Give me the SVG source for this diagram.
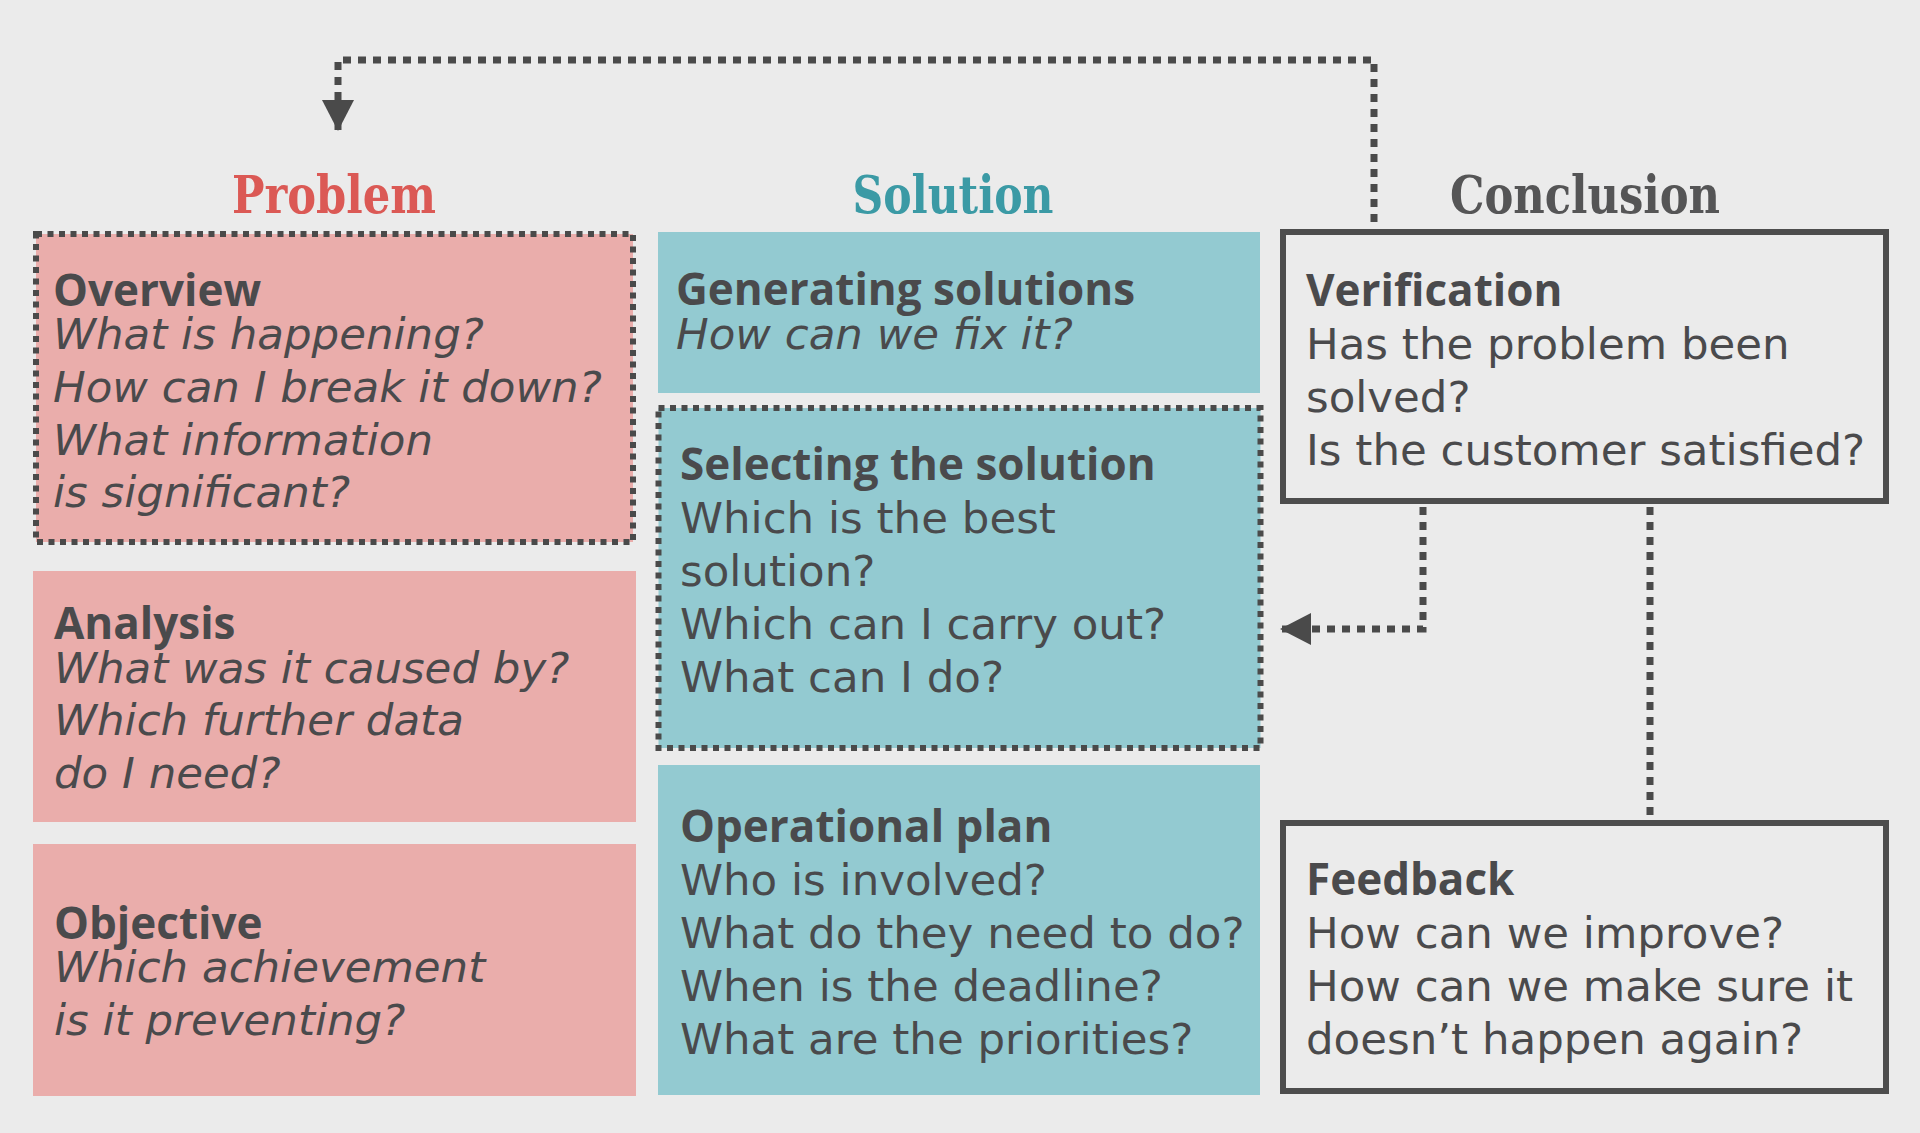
<svg xmlns="http://www.w3.org/2000/svg" width="1920" height="1133" viewBox="0 0 1920 1133">
<style>
.bg{fill:#ebebeb}
.pink{fill:#eaadab}
.teal{fill:#93cad1}
.dotbox{stroke:#4a4a4a;stroke-width:6;stroke-dasharray:6 5.5}
.solidbox{fill:#ebebeb;stroke:#4d4d4d;stroke-width:6}
.head{font-family:"DejaVu Serif","Liberation Serif",serif;font-weight:bold;font-stretch:condensed;font-size:52px;text-anchor:middle}
.t{font-family:"Open Sans","DejaVu Sans",sans-serif;font-weight:bold;font-size:44px;fill:#4a4a4c}
.b{font-family:"DejaVu Sans","Open Sans",sans-serif;font-size:43.5px;fill:#4a4a4c}
.i{font-style:italic}
.conn{fill:none;stroke:#4a4a4a;stroke-width:7;stroke-dasharray:8 7}
</style>
<defs>
<marker id="arr" viewBox="0 0 31 32" refX="30" refY="16" markerWidth="31" markerHeight="32" markerUnits="userSpaceOnUse" orient="auto">
<path d="M0,0 L31,16 L0,32 Z" fill="#4a4a4a"/>
</marker>
</defs>
<rect class="bg" x="0" y="0" width="1920" height="1133"/>

<g id="titles">
<text class="head" x="334" y="213" fill="#db5955" textLength="204" lengthAdjust="spacingAndGlyphs">Problem</text>
<text class="head" x="953" y="213" fill="#3b9aa5" textLength="201" lengthAdjust="spacingAndGlyphs">Solution</text>
<text class="head" x="1585" y="213" fill="#555556" textLength="270" lengthAdjust="spacingAndGlyphs">Conclusion</text>
</g>

<g id="connectors">
<path class="conn" d="M1374,222 V60 H338 V130" marker-end="url(#arr)"/>
<path class="conn" d="M1423,507 V629 H1281" marker-end="url(#arr)"/>
<path class="conn" d="M1650,507 V820"/>
</g>

<g id="overview">
<rect class="pink dotbox" x="36" y="234" width="597" height="308"/>
<text class="t" x="53" y="306">Overview</text>
<text class="b i" x="53"><tspan x="53" y="349">What is happening?</tspan><tspan x="53" y="402">How can I break it down?</tspan><tspan x="53" y="455">What information</tspan><tspan x="53" y="507">is significant?</tspan></text>
</g>

<g id="analysis">
<rect class="pink" x="33" y="571" width="603" height="251"/>
<text class="t" x="54" y="639">Analysis</text>
<text class="b i"><tspan x="54" y="683">What was it caused by?</tspan><tspan x="54" y="735">Which further data</tspan><tspan x="54" y="788">do I need?</tspan></text>
</g>

<g id="objective">
<rect class="pink" x="33" y="844" width="603" height="252"/>
<text class="t" x="54" y="939">Objective</text>
<text class="b i"><tspan x="54" y="982">Which achievement</tspan><tspan x="54" y="1035">is it preventing?</tspan></text>
</g>

<g id="generating">
<rect class="teal" x="658" y="232" width="602" height="161"/>
<text class="t" x="676" y="305">Generating solutions</text>
<text class="b i" x="676" y="349">How can we fix it?</text>
</g>

<g id="selecting">
<rect class="teal dotbox" x="658.5" y="408" width="602" height="340"/>
<text class="t" x="680" y="480">Selecting the solution</text>
<text class="b"><tspan x="680" y="533">Which is the best</tspan><tspan x="680" y="586">solution?</tspan><tspan x="680" y="639">Which can I carry out?</tspan><tspan x="680" y="692">What can I do?</tspan></text>
</g>

<g id="operational">
<rect class="teal" x="658" y="765" width="602" height="330"/>
<text class="t" x="680" y="842">Operational plan</text>
<text class="b"><tspan x="680" y="895">Who is involved?</tspan><tspan x="680" y="948">What do they need to do?</tspan><tspan x="680" y="1001">When is the deadline?</tspan><tspan x="680" y="1054">What are the priorities?</tspan></text>
</g>

<g id="verification">
<rect class="solidbox" x="1283" y="232" width="603" height="269"/>
<text class="t" x="1306" y="306">Verification</text>
<text class="b"><tspan x="1306" y="359">Has the problem been</tspan><tspan x="1306" y="412">solved?</tspan><tspan x="1306" y="465">Is the customer satisfied?</tspan></text>
</g>

<g id="feedback">
<rect class="solidbox" x="1283" y="823" width="603" height="268"/>
<text class="t" x="1306" y="895">Feedback</text>
<text class="b"><tspan x="1306" y="948">How can we improve?</tspan><tspan x="1306" y="1001">How can we make sure it</tspan><tspan x="1306" y="1054">doesn’t happen again?</tspan></text>
</g>
</svg>
